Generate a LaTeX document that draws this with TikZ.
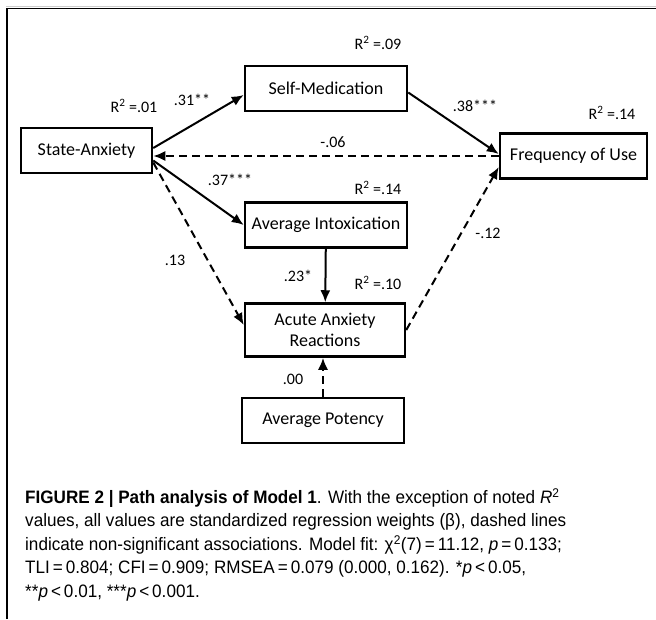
\documentclass[tikz,border=0pt]{standalone}
\usepackage{fontspec}
\setmainfont{Carlito}
\newfontfamily\capfont[FakeStretch=0.95]{Liberation Sans}
\usetikzlibrary{arrows.meta}

\tikzset{
  var/.style={draw,line width=2.5pt,minimum width=#1,minimum height=45pt,
    inner sep=0pt,align=center,font=\fontsize{18}{21}\selectfont},
  sig/.style={line width=2pt,-{Latex[length=12pt,width=10pt]}},
  ns/.style={sig,dash pattern=on 8pt off 5pt},
  lbl/.style={font=\fontsize{16}{18}\selectfont},
}

\begin{document}
\begin{tikzpicture}[x=1pt,y=-1pt]
        \useasboundingbox (0,0) rectangle (656,619);
        \draw[gray!40,line width=1pt] (6,6.5) -- (656,6.5);
        \draw[line width=1.5pt] (6.75,619) -- (6.75,8.5) -- (656,8.5);

        \node[var=131pt] (SA) at (86.5,150.5) {State-Anxiety};
        \node[var=162pt] (SM) at (326,88.5) {Self-Medication};
        \node[var=147pt] (FU) at (573.5,156) {Frequency of Use};
        \node[var=162pt] (AI) at (326,225) {Average Intoxication};
        \node[var=160pt,minimum height=53pt] (AR) at (325,330) {Acute Anxiety\\Reactions};
        \node[var=162pt] (AP) at (323,420.5) {Average Potency};

        \draw[sig] ([yshift=2.5pt]SA.east) -- ([yshift=-6.5pt]SM.west);
        \draw[sig] ([yshift=-10pt]SA.east) -- (AI.west);
        \draw[ns] ([yshift=-12pt]SA.east) -- ([yshift=5pt]AR.west);
        \draw[ns] (FU.west) -- (SA.east |- FU.west);
        \draw[sig] ([yshift=-4pt]SM.east) -- ([yshift=2pt]FU.west);
        \draw[ns] (AR.east) -- ([yshift=-11pt]FU.west);
        \draw[sig] (AI) -- (AR);
        \draw[ns] (AP.north) -- (AP.north |- AR.south);

        \node[lbl] (r01) at (134,106) {R\textsuperscript{2} =.01};
        \node[lbl] (b31) at (192,100) {.31**};
        \node[lbl] (r09) at (378,43) {R\textsuperscript{2} =.09};
        \node[lbl] (b38) at (475,106) {.38***};
        \node[lbl] (r14a) at (612,113) {R\textsuperscript{2} =.14};
        \node[lbl] (b06) at (333,142) {-.06};
        \node[lbl] (b37) at (230,180) {.37***};
        \node[lbl] (r14b) at (378,188) {R\textsuperscript{2} =.14};
        \node[lbl] (b13) at (175,260) {.13};
        \node[lbl] (b23) at (298,276) {.23*};
        \node[lbl] (r10) at (378,283) {R\textsuperscript{2} =.10};
        \node[lbl] (b12) at (488,233) {-.12};
        \node[lbl] (b00) at (293,379) {.00};

        \node[anchor=north west,align=left,inner sep=0pt,
          font=\capfont\fontsize{18}{23.5}\selectfont] (cap) at (25,488)
          {\textbf{FIGURE 2 | Path analysis of Model 1}. With the exception of noted \textit{R}\textsuperscript{2}\\
           values, all values are standardized regression weights (β), dashed lines\\
           indicate non-significant associations. Model fit: χ\textsuperscript{2}(7)\,=\,11.12, \textit{p}\,=\,0.133;\\
           TLI\,=\,0.804; CFI\,=\,0.909; RMSEA\,=\,0.079 (0.000, 0.162). *\textit{p}\,<\,0.05,\\
           **\textit{p}\,<\,0.01, ***\textit{p}\,<\,0.001.};
      \end{tikzpicture}
\end{document}
